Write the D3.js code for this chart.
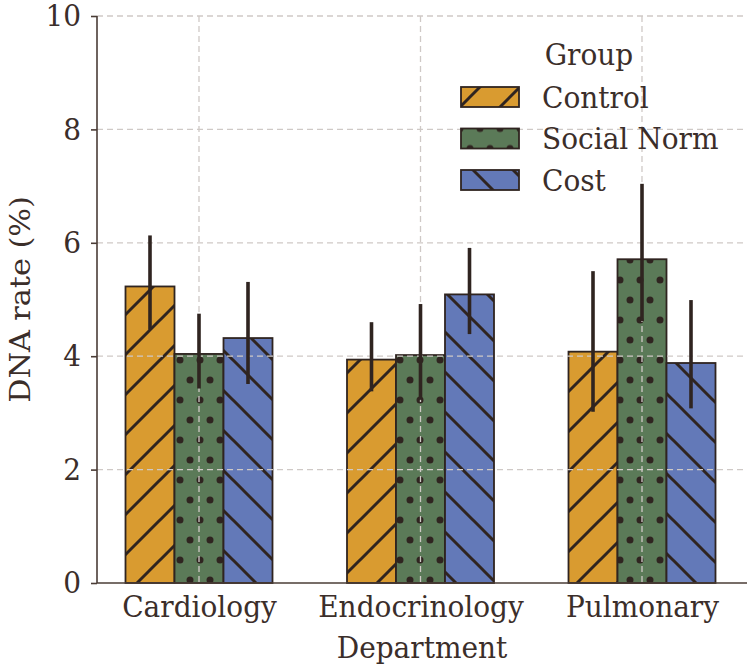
<!DOCTYPE html>
<html>
<head>
<meta charset="utf-8">
<script src="https://cdn.jsdelivr.net/npm/d3@7"></script>
<style>
  body { margin: 0; background: #fff; }
  text { font-family: "DejaVu Serif", serif; fill: #3b2e2a; }
</style>
</head>
<body>
<script>
// data
let departments = ['Cardiology', 'Endocrinology', 'Pulmonary'];
let groups = ['Control', 'Social Norm', 'Cost'];
let controlVals = [5.23, 3.94, 4.08];
let socialVals  = [4.04, 4.02, 5.71];
let costVals    = [4.32, 5.09, 3.88];
let controlLo = [4.47, 3.38, 3.02], controlHi = [6.13, 4.60, 5.50];
let socialLo  = [3.43, 3.23, 4.62], socialHi  = [4.75, 4.92, 7.04];
let costLo    = [3.51, 4.39, 3.08], costHi    = [5.31, 5.91, 4.99];
let yTicks = [0, 2, 4, 6, 8, 10];

let width = 750, height = 671;
let plotL = 97, plotR = 747, plotT = 16, plotB = 583;
let ink = '#2f2420';
let axisInk = '#4a3c36';
let colors = {'Control': '#d99b30', 'Social Norm': '#5b7a58', 'Cost': '#6379b8'};
let stretch = 'scale(1,1.08)';   // text in the picture is a bit taller than normal

let rows = [];
departments.forEach((d, i) => {
  rows.push({dep: d, grp: 'Control', v: controlVals[i], lo: controlLo[i], hi: controlHi[i]});
  rows.push({dep: d, grp: 'Social Norm', v: socialVals[i], lo: socialLo[i], hi: socialHi[i]});
  rows.push({dep: d, grp: 'Cost', v: costVals[i], lo: costLo[i], hi: costHi[i]});
});

let svg = d3.select('body').append('svg')
  .attr('width', width)
  .attr('height', height);

// hatch patterns
let defs = svg.append('defs');
let pid = {'Control': 'hatch-fwd', 'Social Norm': 'hatch-dots', 'Cost': 'hatch-back'};

let fwd = defs.append('pattern').attr('id', 'hatch-fwd')
  .attr('patternUnits', 'userSpaceOnUse').attr('width', 40).attr('height', 40);
fwd.append('rect').attr('width', 40).attr('height', 40).attr('fill', colors['Control']);
[[0, 40, 40, 0], [-10, 10, 10, -10], [30, 50, 50, 30]].forEach(l => {
  fwd.append('line').attr('x1', l[0]).attr('y1', l[1]).attr('x2', l[2]).attr('y2', l[3])
    .attr('stroke', ink).attr('stroke-width', 3);
});

let back = defs.append('pattern').attr('id', 'hatch-back')
  .attr('patternUnits', 'userSpaceOnUse').attr('width', 40).attr('height', 40)
  .attr('patternTransform', 'translate(33,0)');
back.append('rect').attr('width', 40).attr('height', 40).attr('fill', colors['Cost']);
[[0, 0, 40, 40], [-10, 30, 10, 50], [30, -10, 50, 10]].forEach(l => {
  back.append('line').attr('x1', l[0]).attr('y1', l[1]).attr('x2', l[2]).attr('y2', l[3])
    .attr('stroke', ink).attr('stroke-width', 3);
});

let dots = defs.append('pattern').attr('id', 'hatch-dots')
  .attr('patternUnits', 'userSpaceOnUse').attr('width', 20).attr('height', 40);
dots.append('rect').attr('width', 20).attr('height', 40).attr('fill', colors['Social Norm']);
[[0, 0], [20, 0], [0, 40], [20, 40], [10, 20]].forEach(p => {
  dots.append('circle').attr('cx', p[0]).attr('cy', p[1]).attr('r', 3.5).attr('fill', ink);
});

// scales
let x = d3.scalePoint().domain(departments).range([199, 642]);
let xg = d3.scaleBand().domain(groups).range([-73.5, 73.5]);
let y = d3.scaleLinear().domain([0, 10]).range([plotB, plotT]);

// bars
svg.append('g').selectAll('rect')
  .data(rows).enter().append('rect')
  .attr('x', d => x(d.dep) + xg(d.grp))
  .attr('y', d => y(d.v))
  .attr('width', xg.bandwidth())
  .attr('height', d => y(0) - y(d.v))
  .attr('fill', d => 'url(#' + pid[d.grp] + ')')
  .attr('stroke', ink)
  .attr('stroke-width', 1.8);

// grid on top of bars
let grid = svg.append('g')
  .attr('stroke', '#cfc9c6')
  .attr('stroke-width', 1.3)
  .attr('stroke-dasharray', '6,4');
grid.selectAll('.hg').data(yTicks.slice(1)).enter().append('line')
  .attr('x1', plotL).attr('x2', plotR)
  .attr('y1', d => y(d)).attr('y2', d => y(d));
grid.selectAll('.vg').data(departments).enter().append('line')
  .attr('x1', d => x(d)).attr('x2', d => x(d))
  .attr('y1', plotT).attr('y2', plotB);

// error bars
svg.append('g').selectAll('line')
  .data(rows).enter().append('line')
  .attr('x1', d => x(d.dep) + xg(d.grp) + xg.bandwidth() / 2)
  .attr('x2', d => x(d.dep) + xg(d.grp) + xg.bandwidth() / 2)
  .attr('y1', d => y(d.lo))
  .attr('y2', d => y(d.hi))
  .attr('stroke', ink)
  .attr('stroke-width', 3.6);

// axes
let yAxis = svg.append('g')
  .attr('transform', 'translate(' + plotL + ',0)')
  .call(d3.axisLeft(y).tickValues(yTicks).tickSize(6).tickPadding(10));
yAxis.select('.domain').attr('d', 'M0,' + plotT + 'V' + plotB)
  .attr('stroke', axisInk).attr('stroke-width', 1.6);
yAxis.selectAll('.tick line').attr('stroke', axisInk).attr('stroke-width', 1.6);

svg.append('line')
  .attr('x1', plotL).attr('x2', plotR)
  .attr('y1', plotB).attr('y2', plotB)
  .attr('stroke', axisInk).attr('stroke-width', 1.6);

let xAxis = svg.append('g')
  .attr('transform', 'translate(0,' + plotB + ')')
  .call(d3.axisBottom(x).tickSize(0).tickPadding(12));
xAxis.select('.domain').remove();

svg.selectAll('.tick text')
  .attr('font-family', '"DejaVu Serif", serif')
  .attr('font-size', 28)
  .attr('fill', '#3b2e2a')
  .attr('transform', stretch);

// axis titles
svg.append('text')
  .attr('transform', 'translate(' + ((plotL + plotR) / 2) + ',658) ' + stretch)
  .attr('text-anchor', 'middle')
  .attr('font-size', 28)
  .text('Department');

svg.append('text')
  .attr('transform', 'translate(30,' + ((plotT + plotB) / 2) + ') rotate(-90) scale(1.08,1)')
  .attr('text-anchor', 'middle')
  .attr('font-size', 28)
  .text('DNA rate (%)');

// legend
let legend = svg.append('g');
legend.append('text')
  .attr('transform', 'translate(589,65) ' + stretch)
  .attr('text-anchor', 'middle')
  .attr('font-size', 28)
  .text('Group');
let li = legend.selectAll('.item').data(groups).enter().append('g')
  .attr('transform', (d, i) => 'translate(0,' + (87 + i * 41.5) + ')');
li.append('rect')
  .attr('x', 461).attr('y', 0)
  .attr('width', 58).attr('height', 20)
  .attr('fill', d => 'url(#' + pid[d] + ')')
  .attr('stroke', ink).attr('stroke-width', 1.8);
li.append('text')
  .attr('transform', 'translate(542,10) ' + stretch)
  .attr('dy', '0.36em')
  .attr('font-size', 28)
  .text(d => d);
</script>
</body>
</html>
